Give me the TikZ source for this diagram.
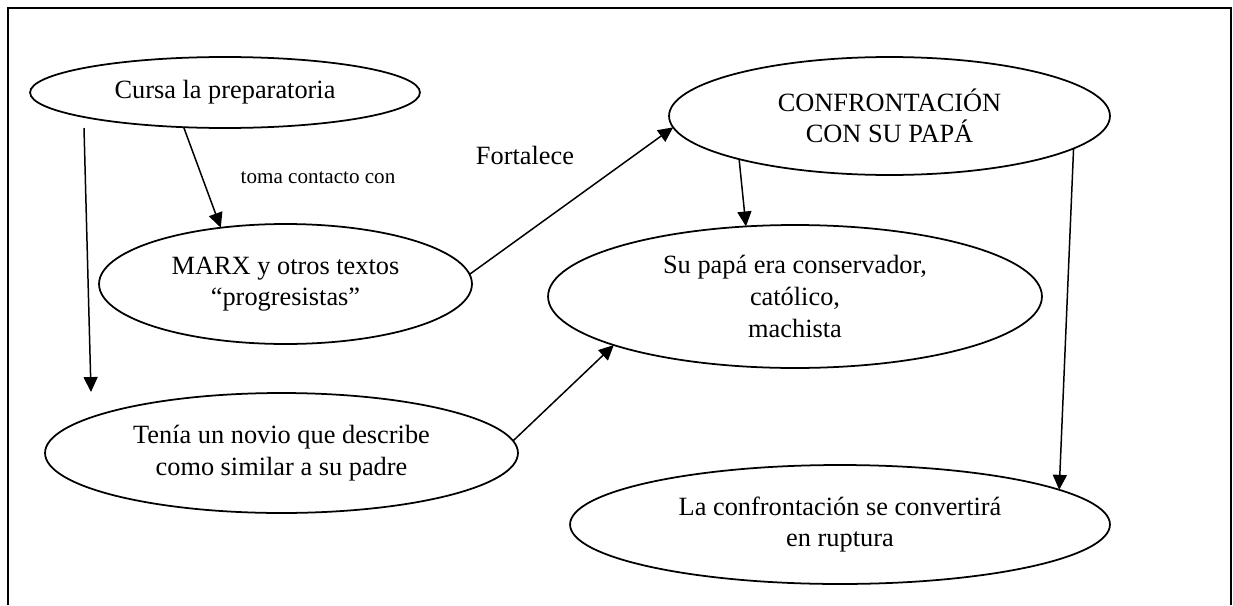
\documentclass[tikz,border=0pt]{standalone}
\usepackage{fontspec}
\setmainfont{Liberation Serif}
\usetikzlibrary{shapes.geometric,arrows.meta}
\begin{document}
\begin{tikzpicture}[x=0.02cm,y=-0.02cm,
    idea/.style={ellipse,draw,line width=1pt,inner sep=0pt,outer sep=0pt,
      align=center,font=\fontsize{15}{18}\selectfont},
    rel/.style={font=\fontsize{15}{18}\selectfont}]
      \useasboundingbox (0,0) rectangle (1233,605);
      \draw[line width=1.2pt] (8,605) -- (8,8) -- (1231,8) -- (1231,605);
      \draw
        (225,92.5) node[idea,minimum width=7.8cm,minimum height=1.42cm] (prepa){Cursa la preparatoria}
        (285.5,284) node[idea,minimum width=7.46cm,minimum height=2.4cm] (marx){MARX y otros textos\\“progresistas”}
        (281.5,453) node[idea,minimum width=9.46cm,minimum height=2.4cm] (novio){Tenía un novio que describe\\como similar a su padre}
        (889.5,116) node[idea,minimum width=8.82cm,minimum height=2.36cm] (confr){CONFRONTACIÓN\\CON SU PAPÁ}
        (795,296.5) node[idea,minimum width=9.88cm,minimum height=2.86cm] (papa){Su papá era conservador,\\católico,\\machista}
        (840,524.5) node[idea,minimum width=10.8cm,minimum height=2.38cm] (ruptura){La confrontación se convertirá\\en ruptura};
      \node[font=\fontsize{12}{14}\selectfont] (toma) at (318,178) {toma contacto con};
      \node[rel] (fortalece) at (525,155) {Fortalece};
      \coordinate (prepa-out) at (84,128);
      \coordinate (novio-in) at (91,392);
      \begin{scope}[-{Triangle[length=8.5pt,width=8pt]},line width=0.85pt]
        \draw (prepa-out) to (novio-in);
        \draw (prepa.-140) to (marx.139);
        \draw (marx.3.7) to (confr.183);
        \draw (confr.-164) to (papa.125.5);
        \draw (novio.3.3) to (papa.195.7);
        \draw (confr.-10.8) to (ruptura.9.8);
      \end{scope}
    \end{tikzpicture}
\end{document}
